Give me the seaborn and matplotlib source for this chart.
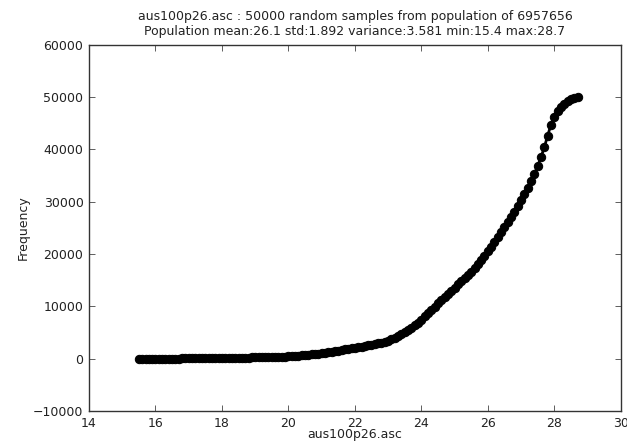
import numpy as np
import pandas as pd
import matplotlib
matplotlib.use("Agg")
import matplotlib.pyplot as plt
import seaborn as sns

# Cumulative sample counts at each value of the grid (0.1 steps)
values = [
    15.5, 15.6, 15.7, 15.8, 15.9, 16.0, 16.1, 16.2, 16.3, 16.4,
    16.5, 16.6, 16.7, 16.8, 16.9, 17.0, 17.1, 17.2, 17.3, 17.4,
    17.5, 17.6, 17.7, 17.8, 17.9, 18.0, 18.1, 18.2, 18.3, 18.4,
    18.5, 18.6, 18.7, 18.8, 18.9, 19.0, 19.1, 19.2, 19.3, 19.4,
    19.5, 19.6, 19.7, 19.8, 19.9, 20.0, 20.1, 20.2, 20.3, 20.4,
    20.5, 20.6, 20.7, 20.8, 20.9, 21.0, 21.1, 21.2, 21.3, 21.4,
    21.5, 21.6, 21.7, 21.8, 21.9, 22.0, 22.1, 22.2, 22.3, 22.4,
    22.5, 22.6, 22.7, 22.8, 22.9, 23.0, 23.1, 23.2, 23.3, 23.4,
    23.5, 23.6, 23.7, 23.8, 23.9, 24.0, 24.1, 24.2, 24.3, 24.4,
    24.5, 24.6, 24.7, 24.8, 24.9, 25.0, 25.1, 25.2, 25.3, 25.4,
    25.5, 25.6, 25.7, 25.8, 25.9, 26.0, 26.1, 26.2, 26.3, 26.4,
    26.5, 26.6, 26.7, 26.8, 26.9, 27.0, 27.1, 27.2, 27.3, 27.4,
    27.5, 27.6, 27.7, 27.8, 27.9, 28.0, 28.1, 28.2, 28.3, 28.4,
    28.5, 28.6, 28.7,
]
counts = [
    0, 2, 4, 7, 10, 14, 18, 22, 27, 32,
    37, 43, 49, 55, 62, 69, 76, 83, 90, 98,
    106, 114, 122, 131, 140, 150, 160, 170, 180, 191,
    202, 214, 226, 239, 252, 266, 280, 295, 310, 326,
    343, 361, 380, 400, 422, 450, 490, 535, 585, 640,
    700, 765, 835, 905, 975, 1050, 1150, 1260, 1370, 1470,
    1570, 1670, 1780, 1890, 2000, 2110, 2220, 2330, 2440, 2560,
    2680, 2800, 2930, 3070, 3240, 3450, 3700, 3980, 4300, 4650,
    5030, 5450, 5900, 6380, 6890, 7500, 8100, 8700, 9300, 9950,
    10600, 11200, 11800, 12400, 13000, 13600, 14200, 14800, 15400, 16000,
    16650, 17350, 18100, 18900, 19700, 20550, 21400, 22300, 23200, 24150,
    25100, 26100, 27100, 28100, 29150, 30250, 31400, 32600, 33900, 35300,
    36800, 38500, 40400, 42600, 44700, 46200, 47300, 48100, 48700, 49200,
    49550, 49800, 50000,
]

title_lines = [
    "aus100p26.asc : 50000 random samples from population of 6957656",
    "Population mean:26.1 std:1.892 variance:3.581 min:15.4 max:28.7",
]
x_label = "aus100p26.asc"
y_label = "Frequency"

df = pd.DataFrame({"value": values, "count": counts})

sns.set_style("white", {
    "axes.edgecolor": "black",
    "xtick.direction": "in",
    "ytick.direction": "in",
    "xtick.top": True,
    "ytick.right": True,
    "xtick.bottom": True,
    "ytick.left": True,
})
plt.rcParams["font.family"] = ["DejaVu Sans"]
plt.rcParams["font.size"] = 9

fig = plt.figure(figsize=(6.27, 4.43), dpi=100)
ax = fig.add_axes([0.142, 0.072, 0.848, 0.827])

sns.lineplot(data=df, x="value", y="count", ax=ax, color="black",
             marker="o", markersize=6, markeredgecolor="black",
             linewidth=2.0, estimator=None, sort=False)

ax.set_xlim(14, 30)
ax.set_ylim(-10000, 60000)
ax.set_xticks(np.arange(14, 31, 2))
ax.set_yticks(np.arange(-10000, 60001, 10000))
ax.tick_params(axis="both", which="major", length=4, width=0.6,
               labelsize=9, color="#444444", labelcolor="#222222",
               top=True, right=True, direction="in", pad=4)
for sp in ax.spines.values():
    sp.set_color("#333333")
    sp.set_linewidth(1.0)

ax.set_title("\n".join(title_lines), fontsize=9, color="#222222", pad=7,
             linespacing=1.25)
ax.set_xlabel(x_label, fontsize=9, color="#222222", labelpad=-1)
ax.set_ylabel(y_label, fontsize=9, color="#222222", labelpad=2.5)

fig.savefig("out.png", dpi=100)
